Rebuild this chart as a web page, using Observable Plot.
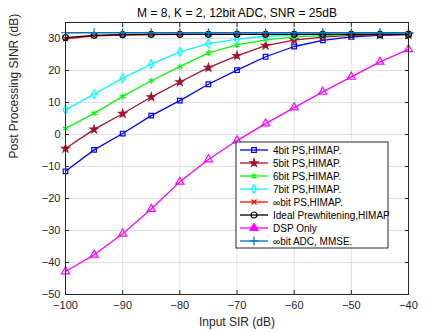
<!DOCTYPE html>
<html>
<head>
<meta charset="utf-8">
<script src="https://cdn.jsdelivr.net/npm/d3@7"></script>
<script src="https://cdn.jsdelivr.net/npm/@observablehq/plot@0.6"></script>
<style>
  html, body { margin: 0; padding: 0; background: #fff; }
</style>
</head>
<body>
<div id="chart"></div>
<script>
const sir = [-100, -95, -90, -85, -80, -75, -70, -65, -60, -55, -50, -45, -40];
const bit4  = [-11.5, -4.8, 0.3, 5.9, 10.6, 15.7, 20.1, 24.3, 27.5, 29.4, 30.5, 31.0, 31.3];
const bit5  = [-4.4, 1.6, 6.5, 11.7, 16.4, 20.9, 24.6, 27.8, 29.5, 30.4, 31.0, 31.1, 31.2];
const bit6  = [1.9, 6.6, 11.9, 16.8, 21.2, 25.5, 28.0, 29.6, 30.5, 30.9, 31.2, 31.3, 31.3];
const bit7  = [7.7, 12.6, 17.6, 22.0, 25.8, 28.4, 29.8, 30.7, 31.1, 31.3, 31.3, 31.4, 31.4];
const bitInf = [29.9, 30.8, 31.1, 31.2, 31.3, 31.3, 31.3, 31.3, 31.3, 31.3, 31.3, 31.3, 31.3];
const ideal = [30.3, 31.0, 31.2, 31.3, 31.3, 31.3, 31.3, 31.3, 31.3, 31.3, 31.3, 31.3, 31.3];
const dsp   = [-42.8, -37.6, -31.0, -23.3, -14.8, -7.8, -1.9, 3.4, 8.4, 13.3, 18.0, 22.7, 26.6];
const mmse  = [31.8, 31.8, 31.8, 31.8, 31.8, 31.8, 31.8, 31.8, 31.8, 31.8, 31.8, 31.8, 31.8];

const seriesNames = ["4bit PS,HIMAP.", "5bit PS,HIMAP.", "6bit PS,HIMAP.", "7bit PS,HIMAP.",
  "\u221Ebit PS,HIMAP.", "Ideal Prewhitening,HIMAP", "DSP Only", "\u221Ebit ADC, MMSE."];
const seriesValues = [bit4, bit5, bit6, bit7, bitInf, ideal, dsp, mmse];
const seriesColors = ["#0000ff", "#a2142f", "#00ff00", "#00ffff", "#ff0000", "#000000", "#ff00ff", "#0072bd"];
const seriesSymbols = ["square", "star", "asterisk", "diamond", "times", "circle", "triangle", "plus"];
const seriesR = [2.6, 2.4, 2.8, 2.6, 2.4, 3.0, 3.0, 3.0];
const seriesFill = [false, true, false, false, false, false, false, false];

const xTicks = [-100, -90, -80, -70, -60, -50, -40];
const yTicks = [-50, -40, -30, -20, -10, 0, 10, 20, 30];
const title = "M = 8, K = 2, 12bit ADC, SNR = 25dB";
const xLabel = "Input SIR (dB)";
const yLabel = "Post Processing SINR (dB)";

const rows = seriesNames.map((name, i) => sir.map((x, j) => ({series: name, x, y: seriesValues[i][j]})));

const axisColor = "#262626";
const marks = [
  Plot.gridX(xTicks, {stroke: "#000", strokeOpacity: 0.12}),
  Plot.gridY(yTicks, {stroke: "#000", strokeOpacity: 0.12}),
];
rows.forEach((data, i) => {
  marks.push(Plot.line(data, {x: "x", y: "y", stroke: seriesColors[i], strokeWidth: 1.3}));
  marks.push(Plot.dot(data, {
    x: "x", y: "y", symbol: () => seriesSymbols[i], r: seriesR[i],
    stroke: seriesColors[i], strokeWidth: 1.2,
    fill: seriesFill[i] ? seriesColors[i] : "none"
  }));
});
marks.push(
  Plot.frame({stroke: axisColor, strokeWidth: 1}),
  Plot.axisX(xTicks, {tickSize: -4, text: null, label: null, stroke: axisColor}),
  Plot.axisX(xTicks, {anchor: "top", tickSize: -4, text: null, label: null, stroke: axisColor}),
  Plot.axisY(yTicks, {tickSize: -4, text: null, label: null, stroke: axisColor}),
  Plot.axisY(yTicks, {anchor: "right", tickSize: -4, text: null, label: null, stroke: axisColor}),
  Plot.axisX(xTicks, {tickSize: 0, tickPadding: 7, label: null, fill: axisColor, fontSize: 11}),
  Plot.axisY(yTicks, {tickSize: 0, tickPadding: 5, label: null, fill: axisColor, fontSize: 11}),
  Plot.text([title], {frameAnchor: "top", lineAnchor: "middle", dy: -9, fontSize: 12, fill: "#000"}),
  Plot.text([xLabel], {frameAnchor: "bottom", lineAnchor: "middle", dy: 28, fontSize: 12, fill: axisColor}),
  Plot.text([yLabel], {frameAnchor: "left", lineAnchor: "middle", rotate: -90, dx: -51, fontSize: 12, fill: axisColor})
);

const svg = Plot.plot({
  width: 443,
  height: 332,
  marginTop: 22,
  marginLeft: 65,
  marginRight: 35,
  marginBottom: 38,
  x: {domain: [-100, -40]},
  y: {domain: [-50, 35]},
  style: {fontFamily: "'Liberation Sans', Arial, sans-serif", fontSize: "11px", background: "#fff", overflow: "visible"},
  marks
});
document.getElementById("chart").appendChild(svg);

// Legend (MATLAB-style box)
const lg = d3.select(svg).append("g").attr("class", "legend")
  .attr("text-anchor", "start").attr("font-family", "'Liberation Sans', Arial, sans-serif");
const lx = 236, ly = 142, lw = 152, lh = 106, rowH = 13;
lg.append("rect").attr("x", lx).attr("y", ly).attr("width", lw).attr("height", lh)
  .attr("fill", "#fff").attr("stroke", axisColor).attr("stroke-width", 1);
const symMap = {square: d3.symbolSquare, star: d3.symbolStar, asterisk: d3.symbolAsterisk,
  diamond: d3.symbolDiamond, times: d3.symbolTimes, circle: d3.symbolCircle,
  triangle: d3.symbolTriangle, plus: d3.symbolPlus};
seriesNames.forEach((name, i) => {
  const y = ly + 8 + i * rowH;
  lg.append("line").attr("x1", lx + 4).attr("x2", lx + 32).attr("y1", y).attr("y2", y)
    .attr("stroke", seriesColors[i]).attr("stroke-width", 1.3);
  const r = seriesR[i];
  lg.append("path")
    .attr("d", d3.symbol(symMap[seriesSymbols[i]], Math.PI * r * r)())
    .attr("transform", `translate(${lx + 18},${y})`)
    .attr("stroke", seriesColors[i]).attr("stroke-width", 1.2)
    .attr("fill", seriesFill[i] ? seriesColors[i] : (seriesSymbols[i] === "triangle" ? seriesColors[i] : "none"));
  lg.append("text").attr("x", lx + 37).attr("y", y).attr("dy", "0.35em")
    .attr("text-anchor", "start").attr("font-size", 10).attr("fill", "#000").text(name);
});
</script>
</body>
</html>
